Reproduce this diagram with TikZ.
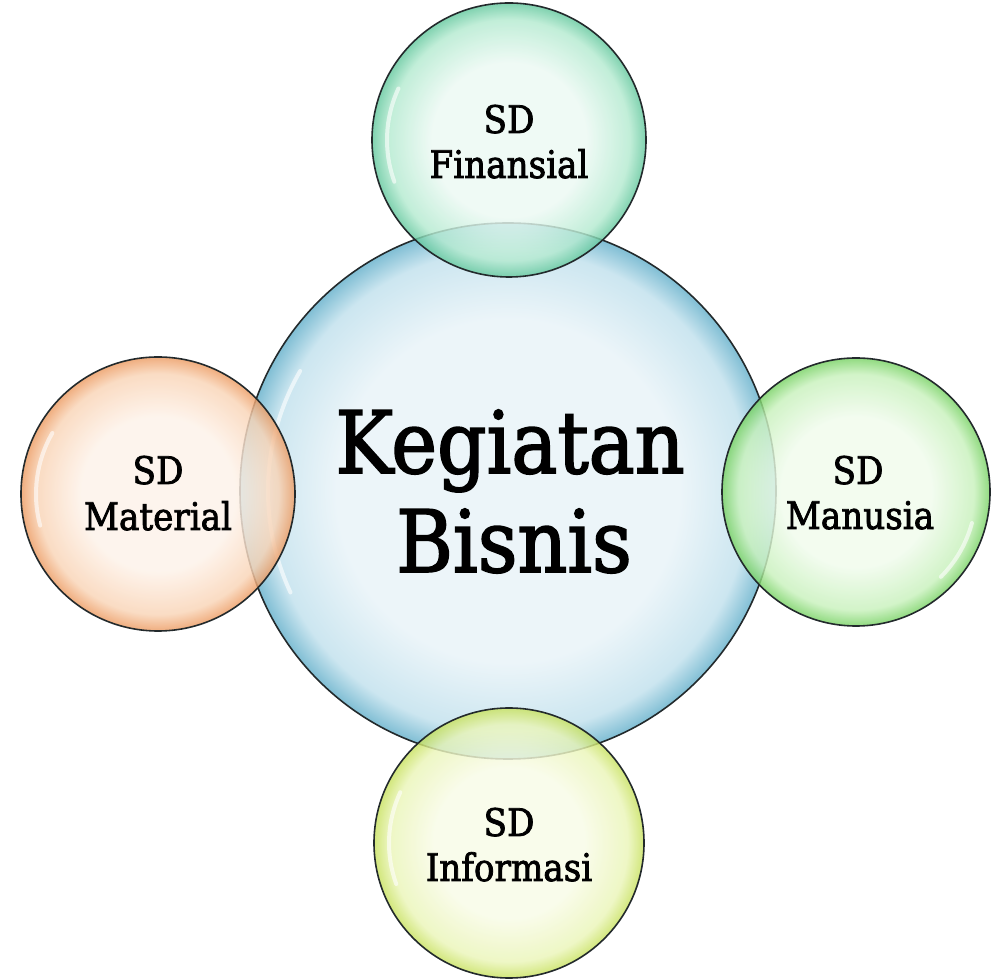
\documentclass[tikz,border=0pt]{standalone}
\usepackage{fontspec}
\setmainfont[FakeStretch=0.9, FakeBold=2]{DejaVu Serif}
% colours
\definecolor{cCin}{RGB}{236,245,249}
\definecolor{cCmid}{RGB}{204,230,240}
\definecolor{cCout}{RGB}{128,190,212}
\definecolor{cTin}{RGB}{236,249,243}
\definecolor{cTmid}{RGB}{180,234,208}
\definecolor{cTout}{RGB}{100,200,158}
\definecolor{cLin}{RGB}{253,242,233}
\definecolor{cLmid}{RGB}{249,212,182}
\definecolor{cLout}{RGB}{236,155,98}
\definecolor{cRin}{RGB}{240,251,236}
\definecolor{cRmid}{RGB}{200,241,188}
\definecolor{cRout}{RGB}{120,210,100}
\definecolor{cBin}{RGB}{248,251,230}
\definecolor{cBmid}{RGB}{234,245,184}
\definecolor{cBout}{RGB}{200,225,95}
\definecolor{rim}{RGB}{35,42,44}
\pgfdeclareradialshading{shC}{\pgfpoint{0bp}{0bp}}{color(0bp)=(cCin); color(16bp)=(cCin); color(22.5bp)=(cCmid); color(25bp)=(cCout); color(50bp)=(cCout)}
\pgfdeclareradialshading{shT}{\pgfpoint{0bp}{0bp}}{color(0bp)=(cTin); color(14bp)=(cTin); color(22bp)=(cTmid); color(25bp)=(cTout); color(50bp)=(cTout)}
\pgfdeclareradialshading{shL}{\pgfpoint{0bp}{0bp}}{color(0bp)=(cLin); color(14bp)=(cLin); color(22bp)=(cLmid); color(25bp)=(cLout); color(50bp)=(cLout)}
\pgfdeclareradialshading{shR}{\pgfpoint{0bp}{0bp}}{color(0bp)=(cRin); color(14bp)=(cRin); color(22bp)=(cRmid); color(25bp)=(cRout); color(50bp)=(cRout)}
\pgfdeclareradialshading{shB}{\pgfpoint{0bp}{0bp}}{color(0bp)=(cBin); color(14bp)=(cBin); color(22bp)=(cBmid); color(25bp)=(cBout); color(50bp)=(cBout)}
\tikzset{
  bubble/.style={circle, inner sep=0pt, draw=rim, line width=1.6pt},
  sat/.style={bubble, fill opacity=0.82},
  gloss/.style={white, line width=4pt, opacity=0.6, line cap=round},
  lbl/.style={anchor=base, inner sep=0pt, text=black, font=\fontsize{38}{45}\selectfont},
  big/.style={anchor=base, inner sep=0pt, text=black, font=\fontsize{86}{100}\selectfont}
}
\begin{document}
\begin{tikzpicture}[x=1pt, y=1pt]
\useasboundingbox (0,0) rectangle (992,979);
% central bubble
\node[bubble, shading=shC, minimum size=536pt] (cC) at (508,488) {};
\draw[gloss] (cC.center) ++(150:240) arc[start angle=150, end angle=205, radius=240];
% satellites
\node[sat, shading=shT, minimum size=274pt] (cT) at (509,839) {};
\node[sat, shading=shL, minimum size=274pt] (cL) at (158,485) {};
\node[sat, shading=shR, minimum size=268pt] (cR) at (856,487) {};
\node[sat, shading=shB, minimum size=270pt] (cB) at (509,136) {};
\draw[gloss] (cT.center) ++(155:122) arc[start angle=155, end angle=200, radius=122];
\draw[gloss] (cL.center) ++(150:122) arc[start angle=150, end angle=195, radius=122];
\draw[gloss] (cR.center) ++(-45:120) arc[start angle=-45, end angle=-15, radius=120];
\draw[gloss] (cB.center) ++(155:120) arc[start angle=155, end angle=200, radius=120];
% texts
\node[big] (k1) at (510,506) {Kegiatan};
\node[big] (k2) at (514,407) {Bisnis};
\node[lbl] (t1) at (509,846) {SD};
\node[lbl] (t2) at (509,801) {Finansial};
\node[lbl] (l1) at (158,495) {SD};
\node[lbl] (l2) at (158,449) {Material};
\node[lbl] (r1) at (858,495) {SD};
\node[lbl] (r2) at (860,450) {Manusia};
\node[lbl] (b1) at (509,143) {SD};
\node[lbl] (b2) at (509,98) {Informasi};
\end{tikzpicture}
\end{document}
